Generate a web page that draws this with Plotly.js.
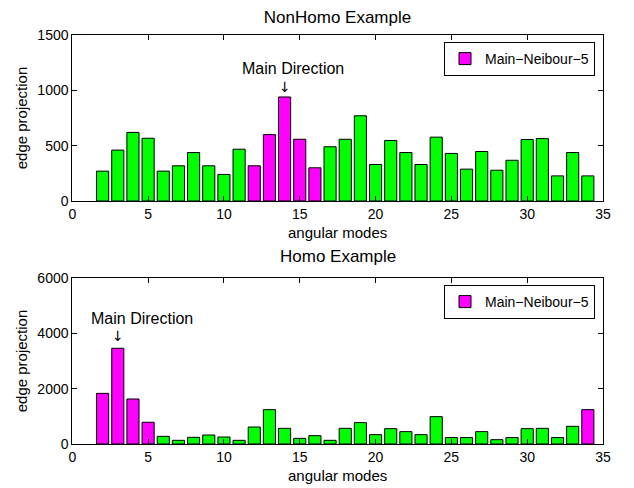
<!DOCTYPE html>
<html>
<head>
<meta charset="utf-8">
<script src="https://cdn.plot.ly/plotly-3.0.1.min.js"></script>
<style>html,body{margin:0;padding:0;background:#fff;}#chart{width:634px;height:488px;}</style>
</head>
<body>
<div id="chart"></div>
<script>
const modes = [2,3,4,5,6,7,8,9,10,11,12,13,14,15,16,17,18,19,20,21,22,23,24,25,26,27,28,29,30,31,32,33,34];
const nonHomoValues = [270,460,620,567,270,318,438,318,240,468,318,600,940,558,300,490,558,770,330,547,438,330,577,430,288,447,278,368,556,564,227,438,227];
const homoValues = [1830,3460,1627,785,277,133,241,325,253,133,614,1242,566,205,301,133,566,772,338,555,447,338,989,233,233,447,157,233,555,566,233,639,1242];
const nonHomoMain = [12,13,14,15,16];
const homoMain = [2,3,4,5,34];
const legendLabel = "Main\u2212Neibour\u22125";
const xTicks = [0,5,10,15,20,25,30,35];
const nonHomoYTicks = [0,500,1000,1500];
const homoYTicks = [0,2000,4000,6000];

const FONT = "Liberation Sans, Arial, Helvetica, sans-serif";
const GREEN = "#00ff00", MAGENTA = "#ff00ff";

function split(values, mainIdx) {
  const g = {x: [], y: []}, m = {x: [], y: []};
  modes.forEach((k, i) => {
    if (mainIdx.includes(k)) { m.x.push(k); m.y.push(values[i]); }
    else { g.x.push(k); g.y.push(values[i]); }
  });
  return [g, m];
}
const [ng, nm] = split(nonHomoValues, nonHomoMain);
const [hg, hm] = split(homoValues, homoMain);
const barLine = {color: "#000", width: 1};
const traces = [
  {type: "bar", x: ng.x, y: ng.y, width: 0.8, marker: {color: GREEN, line: barLine}, showlegend: false, xaxis: "x", yaxis: "y"},
  {type: "bar", x: nm.x, y: nm.y, width: 0.8, marker: {color: MAGENTA, line: barLine}, name: legendLabel, showlegend: true, legend: "legend", xaxis: "x", yaxis: "y"},
  {type: "bar", x: hg.x, y: hg.y, width: 0.8, marker: {color: GREEN, line: barLine}, showlegend: false, xaxis: "x2", yaxis: "y2"},
  {type: "bar", x: hm.x, y: hm.y, width: 0.8, marker: {color: MAGENTA, line: barLine}, name: legendLabel, showlegend: true, legend: "legend2", xaxis: "x2", yaxis: "y2"}
];

const xDom = [72.3/634, 603/634];
const axisCommon = {
  showline: true, linecolor: "#000", linewidth: 1, mirror: "ticks",
  ticks: "inside", ticklen: 5, tickcolor: "#000", showgrid: false, zeroline: false,
  tickfont: {family: FONT, size: 14, color: "#000"}, automargin: false
};
function xAxis(anchor) {
  return Object.assign({}, axisCommon, {
    domain: xDom, range: [0, 35], tickmode: "array", tickvals: xTicks, anchor: anchor,
    title: {text: "angular modes", font: {family: FONT, size: 15, color: "#000"}, standoff: 6}
  });
}
function yAxis(dom, ticks, anchor) {
  return Object.assign({}, axisCommon, {
    domain: dom, range: [0, ticks[ticks.length-1]], tickmode: "array", tickvals: ticks, anchor: anchor,
    title: {text: "edge projection", font: {family: FONT, size: 15, color: "#000"}, standoff: 6}
  });
}
const legendCommon = {
  bgcolor: "#fff", bordercolor: "#000", borderwidth: 1,
  font: {family: FONT, size: 14, color: "#000"},
  xanchor: "right", yanchor: "top", x: 595/634
};
const layout = {
  width: 634, height: 488,
  margin: {l: 0, r: 0, t: 0, b: 0},
  paper_bgcolor: "#fff", plot_bgcolor: "#fff",
  barmode: "overlay", bargap: 0,
  font: {family: FONT, color: "#000"},
  title: {text: "NonHomo Example", font: {family: FONT, size: 17, color: "#000"}, x: 337.5/634, xanchor: "center", y: 1 - 17/488, yanchor: "middle"},
  xaxis: xAxis("y"),
  yaxis: yAxis([1 - 201/488, 1 - 35/488], nonHomoYTicks, "x"),
  xaxis2: xAxis("y2"),
  yaxis2: yAxis([1 - 444/488, 1 - 278/488], homoYTicks, "x2"),
  legend: Object.assign({}, legendCommon, {y: 1 - 42/488}),
  legend2: Object.assign({}, legendCommon, {y: 1 - 285/488}),
  annotations: [
    {xref: "paper", yref: "paper", x: 337.5/634, y: 1 - 256/488, text: "Homo Example", showarrow: false, xanchor: "center", yanchor: "middle", font: {family: FONT, size: 17, color: "#000"}},
    {xref: "x", yref: "y", x: 14.58, y: 1200, text: "Main Direction", showarrow: false, xanchor: "center", yanchor: "middle", font: {family: FONT, size: 16, color: "#000"}},
    {xref: "x", yref: "y", x: 14, y: 1030, text: "\u2193", showarrow: false, xanchor: "center", yanchor: "middle", font: {family: "DejaVu Sans", size: 14, color: "#000"}},
    {xref: "x2", yref: "y2", x: 4.59, y: 4540, text: "Main Direction", showarrow: false, xanchor: "center", yanchor: "middle", font: {family: FONT, size: 16, color: "#000"}},
    {xref: "x2", yref: "y2", x: 3, y: 3900, text: "\u2193", showarrow: false, xanchor: "center", yanchor: "middle", font: {family: "DejaVu Sans", size: 14, color: "#000"}}
  ]
};
Plotly.newPlot("chart", traces, layout, {displayModeBar: false, staticPlot: true});
</script>
</body>
</html>
